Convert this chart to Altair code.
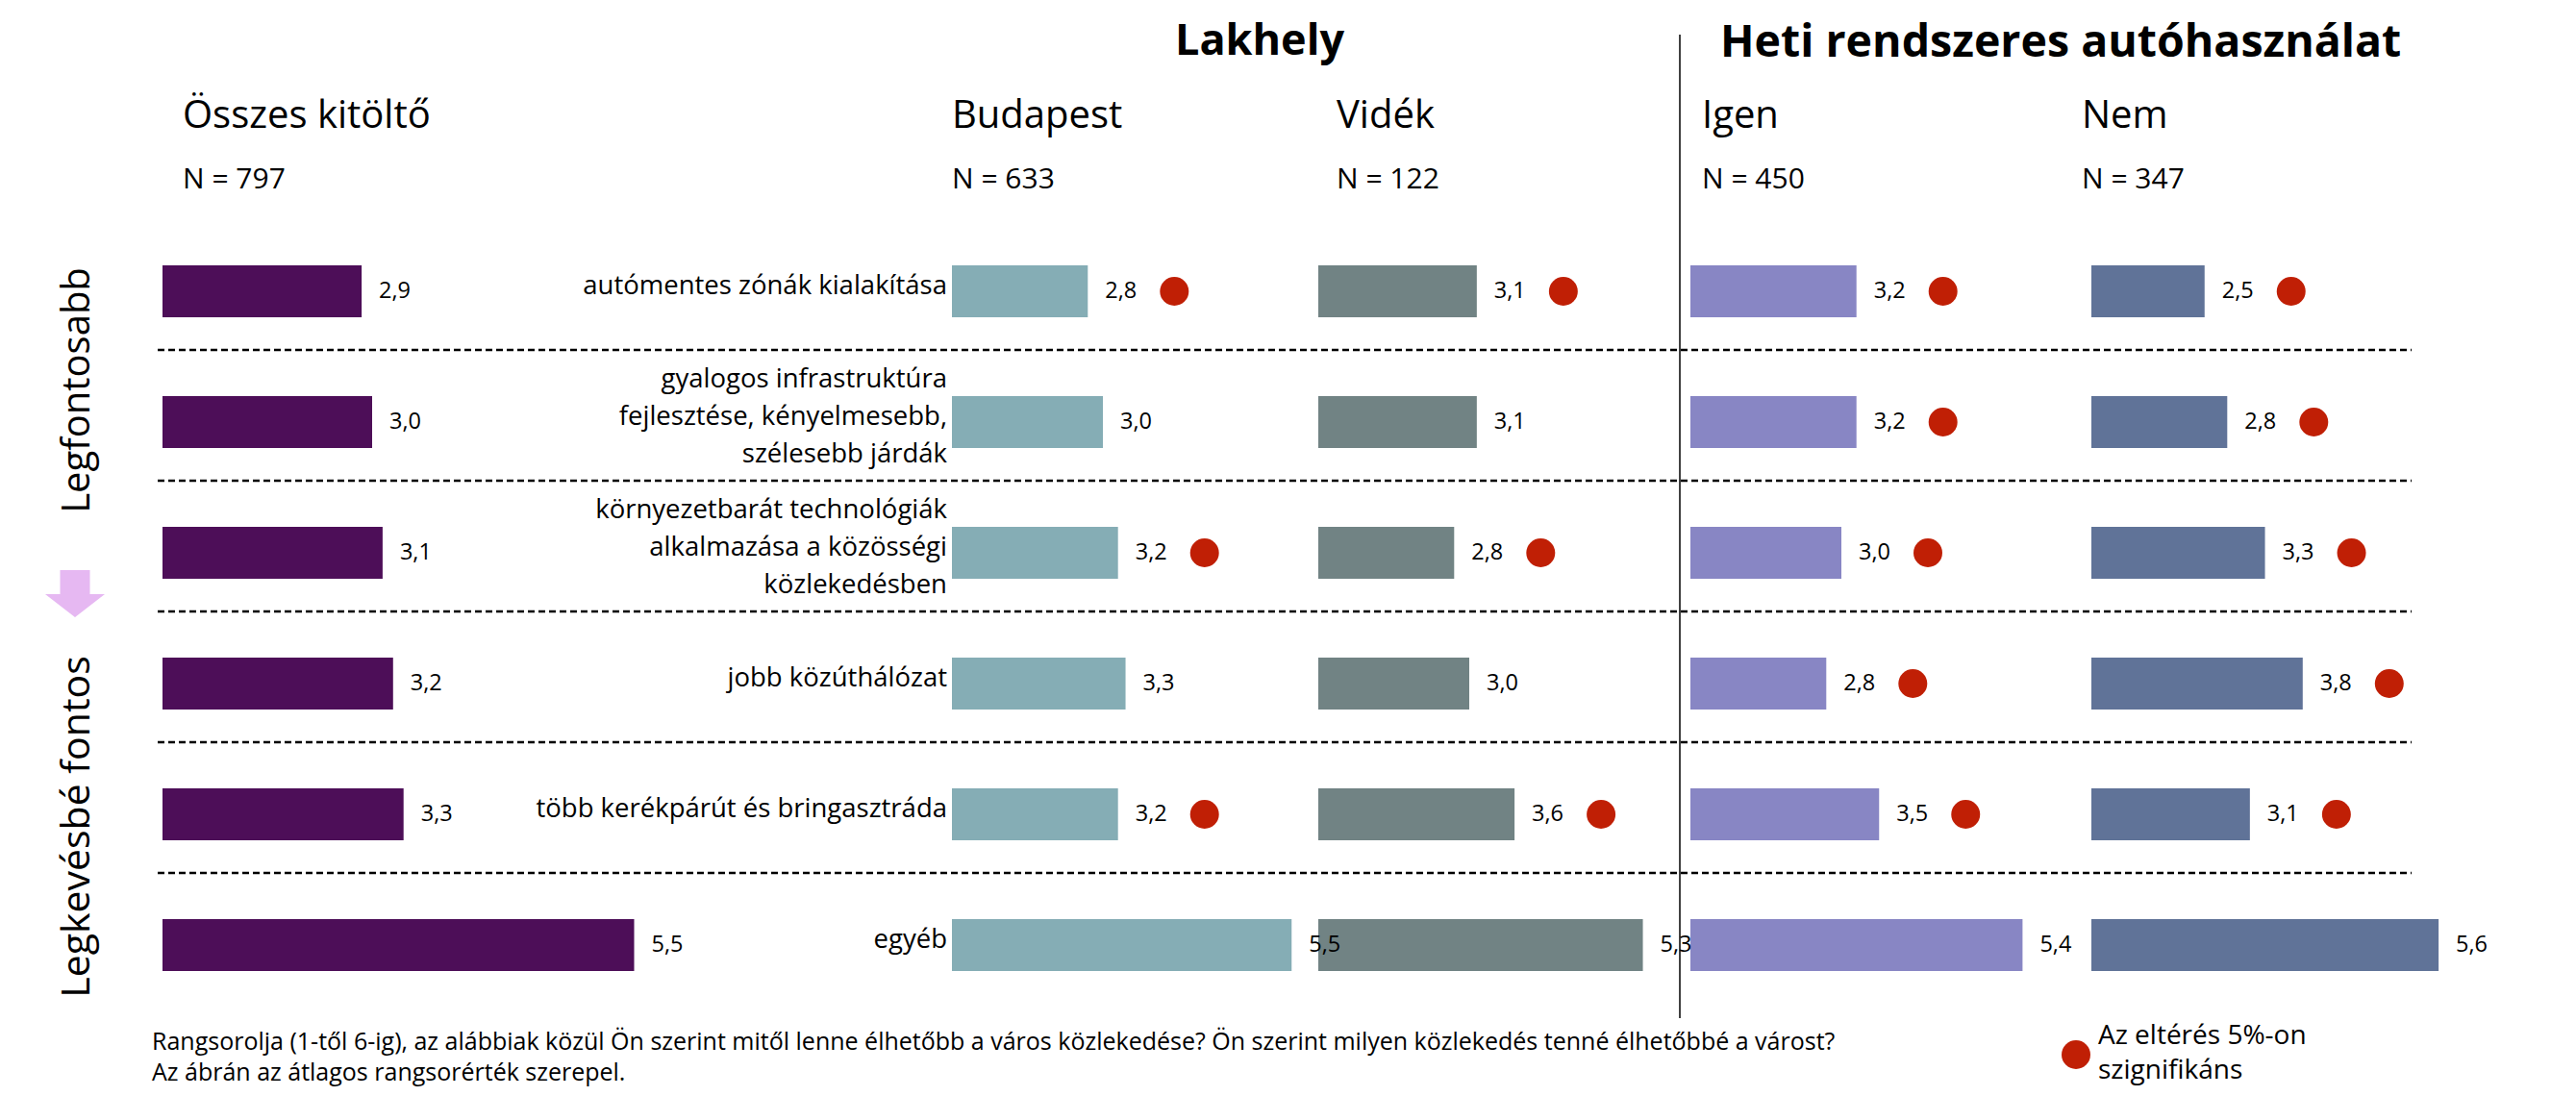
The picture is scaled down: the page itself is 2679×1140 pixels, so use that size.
import altair as alt
import pandas as pd

# ---------------- data ----------------
categories = [
    "autómentes zónák kialakítása",
    "gyalogos infrastruktúra\nfejlesztése, kényelmesebb,\nszélesebb járdák",
    "környezetbarát technológiák\nalkalmazása a közösségi\nközlekedésben",
    "jobb közúthálózat",
    "több kerékpárút és bringasztráda",
    "egyéb",
]
groups = ["Összes kitöltő", "Budapest", "Vidék", "Igen", "Nem"]
n_values = [797, 633, 122, 450, 347]

osszes = [2.9, 3.0, 3.1, 3.2, 3.3, 5.5]
budapest = [2.8, 3.0, 3.2, 3.3, 3.2, 5.5]
videk = [3.1, 3.1, 2.8, 3.0, 3.6, 5.3]
igen = [3.2, 3.2, 3.0, 2.8, 3.5, 5.4]
nem = [2.5, 2.8, 3.3, 3.8, 3.1, 5.6]

sig_osszes = [0, 0, 0, 0, 0, 0]
sig_budapest = [1, 0, 1, 0, 1, 0]
sig_videk = [1, 0, 1, 0, 1, 0]
sig_igen = [1, 1, 1, 1, 1, 0]
sig_nem = [1, 1, 1, 1, 1, 0]

series = [osszes, budapest, videk, igen, nem]
sigs = [sig_osszes, sig_budapest, sig_videk, sig_igen, sig_nem]

rows = []
for g, vals, sg in zip(groups, series, sigs):
    for c, v, s in zip(categories, vals, sg):
        rows.append({"group": g, "cat": c, "v": v, "sig": s})
df = pd.DataFrame(rows)
df_cat = pd.DataFrame({"cat": categories})
df_sep = pd.DataFrame({"cat": categories[:-1]})
one = pd.DataFrame({"a": [0]})

# ---------------- layout / style ----------------
W, H = 2663, 1124
FONT = "Open Sans"
colors = ["#4D0E58", "#85ADB5", "#718384", "#8886C4", "#607398"]
x_ranges = [(161, 706), (982, 1374.5), (1363, 1755.5), (1750, 2142.5), (2167, 2559.5)]
header_x = [182, 982, 1382, 1762, 2157]
RED = "#C01F05"
DOT = 900

ys = alt.Scale(domain=categories, range=[227, 1043], paddingInner=0.603, paddingOuter=0.3015)
Y = alt.Y("cat:N", scale=ys, axis=None, sort=categories)

bars, labels, dots = [], [], []
for g, col, (r0, r1) in zip(groups, colors, x_ranges):
    xs = alt.Scale(domain=[1, 6], range=[r0, r1], zero=False, nice=False)
    X = alt.X("v:Q", scale=xs, axis=None)
    base = alt.Chart(df).transform_filter(alt.datum.group == g)
    bars.append(base.mark_bar(color=col).encode(x=X, x2=alt.datum(1), y=Y))
    labels.append(
        base.transform_calculate(lbl="replace(format(datum.v, '.1f'), '.', ',')")
        .mark_text(align="left", baseline="middle", dx=18, fontSize=23.5, font=FONT, color="black")
        .encode(x=X, y=Y, text="lbl:N")
    )
    dots.append(
        base.transform_filter(alt.datum.sig == 1)
        .mark_point(shape="circle", filled=True, size=DOT, color=RED, opacity=1, xOffset=90)
        .encode(x=X, y=Y)
    )

seps = alt.Chart(df_sep).mark_rule(color="black", strokeWidth=2.6, strokeDash=[7, 4], yOffset=61).encode(
    y=alt.Y("cat:N", scale=ys, axis=None, sort=categories, bandPosition=0.5),
    x=alt.value(156), x2=alt.value(2500),
)

LH = 39
cat_single = alt.Chart(df_cat).transform_filter("indexof(datum.cat, '\\n') < 0").mark_text(
    align="right", baseline="middle", fontSize=27.5, font=FONT, color="black", dy=-5
).encode(x=alt.value(977), y=Y, text="cat:N")
cat_multi = alt.Chart(df_cat).transform_filter("indexof(datum.cat, '\\n') >= 0").mark_text(
    align="right", baseline="middle", fontSize=27.5, font=FONT, color="black",
    lineBreak="\n", lineHeight=LH, dy=-5 - LH
).encode(x=alt.value(977), y=Y, text="cat:N")

vline = alt.Chart(one).mark_rule(color="black", strokeWidth=1.5).encode(
    x=alt.value(1739), y=alt.value(28), y2=alt.value(1051)
)


def txt(text, x, y, size, weight="normal", align="left", baseline="alphabetic", angle=0):
    kw = dict(align=align, baseline=baseline, fontSize=size, font=FONT, fontWeight=weight, color="black", text=text)
    if angle:
        kw["angle"] = angle
    return alt.Chart(one).mark_text(**kw).encode(x=alt.value(x), y=alt.value(y))


statics = [
    txt("Lakhely", 1214, 49, 45, "bold"),
    txt("Heti rendszeres autóhasználat", 1781, 51, 46.5, "bold"),
    txt("Legfontosabb", 73, 398, 40, align="center", baseline="middle", angle=270),
    txt("Legkevésbé fontos", 73, 852, 41, align="center", baseline="middle", angle=270),
    txt("Rangsorolja (1-től 6-ig), az alábbiak közül Ön szerint mitől lenne élhetőbb a város közlekedése? "
        "Ön szerint milyen közlekedés tenné élhetőbbé a várost?", 150, 1084, 25),
    txt("Az ábrán az átlagos rangsorérték szerepel.", 150, 1116, 25),
    txt("Az eltérés 5%-on", 2174, 1078, 28),
    txt("szignifikáns", 2174, 1114, 28),
]
for g, n, hx in zip(groups, n_values, header_x):
    statics.append(txt(g, hx, 125, 40))
    statics.append(txt(f"N = {n}", hx, 188, 30))

arrow_path = "M-0.5,-0.79 L0.5,-0.79 L0.5,0.02 L1,0.02 L0,0.79 L-1,0.02 L-0.5,0.02 Z"
arrow = alt.Chart(one).mark_point(shape=arrow_path, filled=True, color="#E6B8F2", opacity=1, size=3844, strokeWidth=0).encode(
    x=alt.value(70), y=alt.value(609.5)
)
legend_dot = alt.Chart(one).mark_point(shape="circle", filled=True, size=DOT, color=RED, opacity=1).encode(
    x=alt.value(2151), y=alt.value(1089)
)

chart = (
    alt.layer(seps, vline, *bars, cat_single, cat_multi, *labels, *dots, arrow, legend_dot, *statics)
    .resolve_scale(x="independent")
    .properties(width=W, height=H, padding=0, autosize=alt.AutoSizeParams(type="none"))
    .configure_view(strokeWidth=0)
)

chart.save("out.html", embed_options={"renderer": "svg", "actions": False})
